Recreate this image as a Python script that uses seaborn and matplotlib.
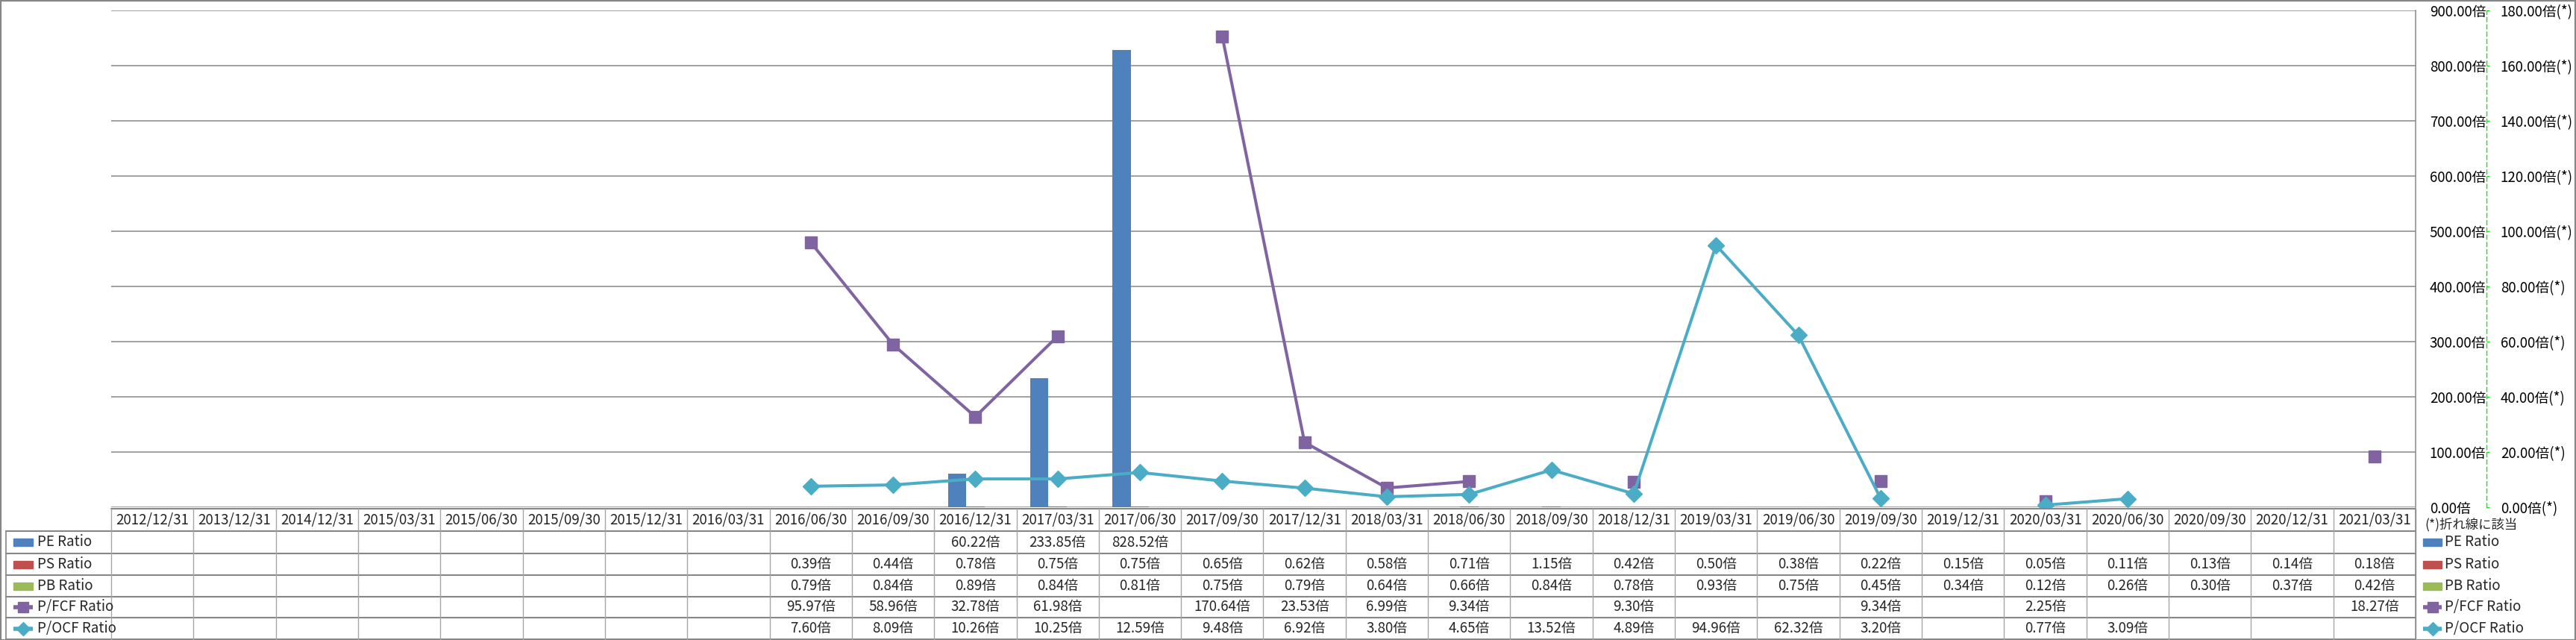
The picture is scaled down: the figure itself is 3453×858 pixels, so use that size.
import numpy as np
import pandas as pd
import matplotlib
matplotlib.use("Agg")
import matplotlib.pyplot as plt
import matplotlib.transforms as mtransforms
from matplotlib.lines import Line2D
from matplotlib.patches import Rectangle
from matplotlib.ticker import FixedLocator, FixedFormatter
import seaborn as sns

nan = np.nan

# ---------------- data ----------------
dates = ["2012/12/31", "2013/12/31", "2014/12/31", "2015/03/31", "2015/06/30", "2015/09/30",
         "2015/12/31", "2016/03/31", "2016/06/30", "2016/09/30", "2016/12/31", "2017/03/31",
         "2017/06/30", "2017/09/30", "2017/12/31", "2018/03/31", "2018/06/30", "2018/09/30",
         "2018/12/31", "2019/03/31", "2019/06/30", "2019/09/30", "2019/12/31", "2020/03/31",
         "2020/06/30", "2020/09/30", "2020/12/31", "2021/03/31"]

pe_ratio = [nan, nan, nan, nan, nan, nan, nan, nan, nan, nan, 60.22, 233.85, 828.52, nan,
            nan, nan, nan, nan, nan, nan, nan, nan, nan, nan, nan, nan, nan, nan]
ps_ratio = [nan, nan, nan, nan, nan, nan, nan, nan, 0.39, 0.44, 0.78, 0.75, 0.75, 0.65,
            0.62, 0.58, 0.71, 1.15, 0.42, 0.50, 0.38, 0.22, 0.15, 0.05, 0.11, 0.13, 0.14, 0.18]
pb_ratio = [nan, nan, nan, nan, nan, nan, nan, nan, 0.79, 0.84, 0.89, 0.84, 0.81, 0.75,
            0.79, 0.64, 0.66, 0.84, 0.78, 0.93, 0.75, 0.45, 0.34, 0.12, 0.26, 0.30, 0.37, 0.42]
pfcf_ratio = [nan, nan, nan, nan, nan, nan, nan, nan, 95.97, 58.96, 32.78, 61.98, nan, 170.64,
              23.53, 6.99, 9.34, nan, 9.30, nan, nan, 9.34, nan, 2.25, nan, nan, nan, 18.27]
pocf_ratio = [nan, nan, nan, nan, nan, nan, nan, nan, 7.60, 8.09, 10.26, 10.25, 12.59, 9.48,
              6.92, 3.80, 4.65, 13.52, 4.89, 94.96, 62.32, 3.20, nan, 0.77, 3.09, nan, nan, nan]

series_names = ["PE Ratio", "PS Ratio", "PB Ratio", "P/FCF Ratio", "P/OCF Ratio"]
colors = {"PE Ratio": "#4F81BD", "PS Ratio": "#C0504D", "PB Ratio": "#9BBB59",
          "P/FCF Ratio": "#8064A2", "P/OCF Ratio": "#4BACC6"}

primary_ticks = [0, 100, 200, 300, 400, 500, 600, 700, 800, 900]
secondary_ticks = [0, 20, 40, 60, 80, 100, 120, 140, 160, 180]
note_text = "(*)折れ線に該当"

# ---------------- style ----------------
sns.set_theme(style="white")
FONT = ["Noto Sans CJK JP", "DejaVu Sans"]
plt.rcParams["font.family"] = FONT
plt.rcParams["axes.unicode_minus"] = False

W, H = 3453, 858
DPI = 100
fig = plt.figure(figsize=(W / DPI, H / DPI), dpi=DPI)
fig.patch.set_facecolor("white")


def fx(px):
    return px / W


def fy(py):
    return 1 - py / H


PLOT_L, PLOT_R, PLOT_T, PLOT_B = 149, 3238, 14, 680
ax = fig.add_axes([fx(PLOT_L), fy(PLOT_B), fx(PLOT_R - PLOT_L), (PLOT_B - PLOT_T) / H])

GRID = "#878787"
FS = 13.5

# ---------------- bars (primary axis) ----------------
bar_df = pd.DataFrame({
    "date": dates * 3,
    "series": ["PE Ratio"] * len(dates) + ["PS Ratio"] * len(dates) + ["PB Ratio"] * len(dates),
    "value": pe_ratio + ps_ratio + pb_ratio,
}).dropna()

sns.barplot(data=bar_df, x="date", y="value", hue="series", order=dates,
            hue_order=["PE Ratio", "PS Ratio", "PB Ratio"], palette=colors,
            errorbar=None, width=0.667, saturation=1, legend=False, ax=ax,
            linewidth=0, zorder=3)

ax.set_xlim(-0.5, len(dates) - 0.5)
ax.set_ylim(0, 900)
ax.tick_params(axis="x", bottom=False, labelbottom=False, length=0)
ax.set_xlabel("")
ax.set_ylabel("")
ax.yaxis.grid(True, color=GRID, lw=1.1, zorder=0)
ax.set_axisbelow(True)
ax.patch.set_alpha(0)

# ---------------- lines (secondary axis) ----------------
ax2 = ax.twinx()
x_pos = np.arange(len(dates))
ax2.plot(x_pos, pfcf_ratio, color=colors["P/FCF Ratio"], lw=2.9, marker="s", ms=12,
         mfc=colors["P/FCF Ratio"], mec=colors["P/FCF Ratio"], zorder=4)
ax2.plot(x_pos, pocf_ratio, color=colors["P/OCF Ratio"], lw=2.9, marker="D", ms=11.5,
         mfc=colors["P/OCF Ratio"], mec=colors["P/OCF Ratio"], zorder=5)
ax2.set_ylim(0, 180)
ax2.set_xlim(-0.5, len(dates) - 0.5)
ax2.yaxis.set_major_locator(FixedLocator(secondary_ticks))
ax2.yaxis.set_major_formatter(FixedFormatter([f"{v:.2f}倍(*)" for v in secondary_ticks]))
for s in ["left", "top", "bottom"]:
    ax2.spines[s].set_visible(False)
GREEN = "#1EDC1E"
ax2.spines["right"].set_position(("axes", (3333 - PLOT_L) / (PLOT_R - PLOT_L)))
ax2.spines["right"].set_color(GREEN)
ax2.spines["right"].set_linestyle((0, (4, 3)))
ax2.spines["right"].set_linewidth(1.0)
ax2.tick_params(axis="y", length=3, width=1, color=GREEN, direction="out", pad=10.5,
                labelsize=FS, labelcolor="black")
ax2.grid(False)

# primary axis on the right (after twinx, which resets it)
ax.yaxis.set_major_locator(FixedLocator(primary_ticks))
ax.yaxis.set_major_formatter(FixedFormatter([f"{v:.2f}倍" for v in primary_ticks]))
ax.yaxis.tick_right()
ax.tick_params(axis="y", left=False, labelleft=False, right=False, labelright=True,
               length=0, pad=13.5, labelsize=FS, labelcolor="black")
for s in ["left", "top", "bottom"]:
    ax.spines[s].set_visible(False)
ax.spines["right"].set_visible(True)
ax.spines["right"].set_color(GRID)
ax.spines["right"].set_linewidth(1.1)

# ---------------- data table ----------------
bt = mtransforms.blended_transform_factory(ax.transData, fig.transFigure)
TBL_TOP, HDR_BOT = 682, 712
row_edges = [712, 742, 771, 800, 828, 857]
ax_pos = ax.get_position()
x_right = ax_pos.x1
LBL_L = 8

fig.add_artist(Line2D([ax_pos.x0, x_right], [fy(TBL_TOP)] * 2, color=GRID, lw=1.5,
                      transform=fig.transFigure))
for yy in row_edges:
    fig.add_artist(Line2D([fx(LBL_L), x_right], [fy(yy)] * 2, color=GRID, lw=1.5,
                          transform=fig.transFigure))
for i in range(len(dates) + 1):
    fig.add_artist(Line2D([i - 0.5, i - 0.5], [fy(TBL_TOP), fy(857)], color="#A6A6A6",
                          lw=1.0, transform=bt))
fig.add_artist(Line2D([fx(LBL_L)] * 2, [fy(HDR_BOT), fy(857)], color=GRID, lw=1.2,
                      transform=fig.transFigure))
fig.add_artist(Line2D([x_right] * 2, [fy(TBL_TOP), fy(857)], color=GRID, lw=1.1,
                      transform=fig.transFigure))

for i, d in enumerate(dates):
    fig.text(i, fy((TBL_TOP + HDR_BOT) / 2), d, transform=bt, ha="center", va="center",
             fontsize=FS, family=FONT)

table_rows = [pe_ratio, ps_ratio, pb_ratio, pfcf_ratio, pocf_ratio]
for r, vals in enumerate(table_rows):
    yc = fy((row_edges[r] + row_edges[r + 1]) / 2)
    for i, v in enumerate(vals):
        if not np.isnan(v):
            fig.text(i, yc, f"{v:.2f}倍", transform=bt, ha="center", va="center",
                     fontsize=FS, family=FONT)


def draw_key(name, x0, x1, yc):
    col = colors[name]
    if name in ("P/FCF Ratio", "P/OCF Ratio"):
        fig.add_artist(Line2D([fx(x0), fx(x1)], [fy(yc)] * 2, color=col, lw=4,
                              transform=fig.transFigure, solid_capstyle="butt"))
        mk = "s" if name == "P/FCF Ratio" else "D"
        ms = 10 if mk == "s" else 9.5
        fig.add_artist(Line2D([fx((x0 + x1) / 2)], [fy(yc)], marker=mk, ms=ms, color=col,
                              mfc=col, mec=col, transform=fig.transFigure))
    else:
        fig.add_artist(Rectangle((fx(x0), fy(yc + 5)), fx(x1 - x0), 10 / H, color=col,
                                 transform=fig.transFigure))


for r, name in enumerate(series_names):
    ycp = (row_edges[r] + row_edges[r + 1]) / 2
    draw_key(name, 18, 44, ycp)
    fig.text(fx(50), fy(ycp), name, ha="left", va="center", fontsize=FS, family=FONT)
    draw_key(name, 3248, 3273, ycp)
    fig.text(fx(3277), fy(ycp), name, ha="left", va="center", fontsize=FS, family=FONT)

fig.text(fx(3250), fy(703), note_text, ha="left", va="center", fontsize=12.5, family=FONT)

fig.add_artist(Rectangle((0.5 / W, 0.5 / H), 1 - 1.5 / W, 1 - 1.5 / H, fill=False,
                         edgecolor="#868686", lw=1.6, transform=fig.transFigure))

fig.savefig("out.png", dpi=DPI, facecolor="white")
